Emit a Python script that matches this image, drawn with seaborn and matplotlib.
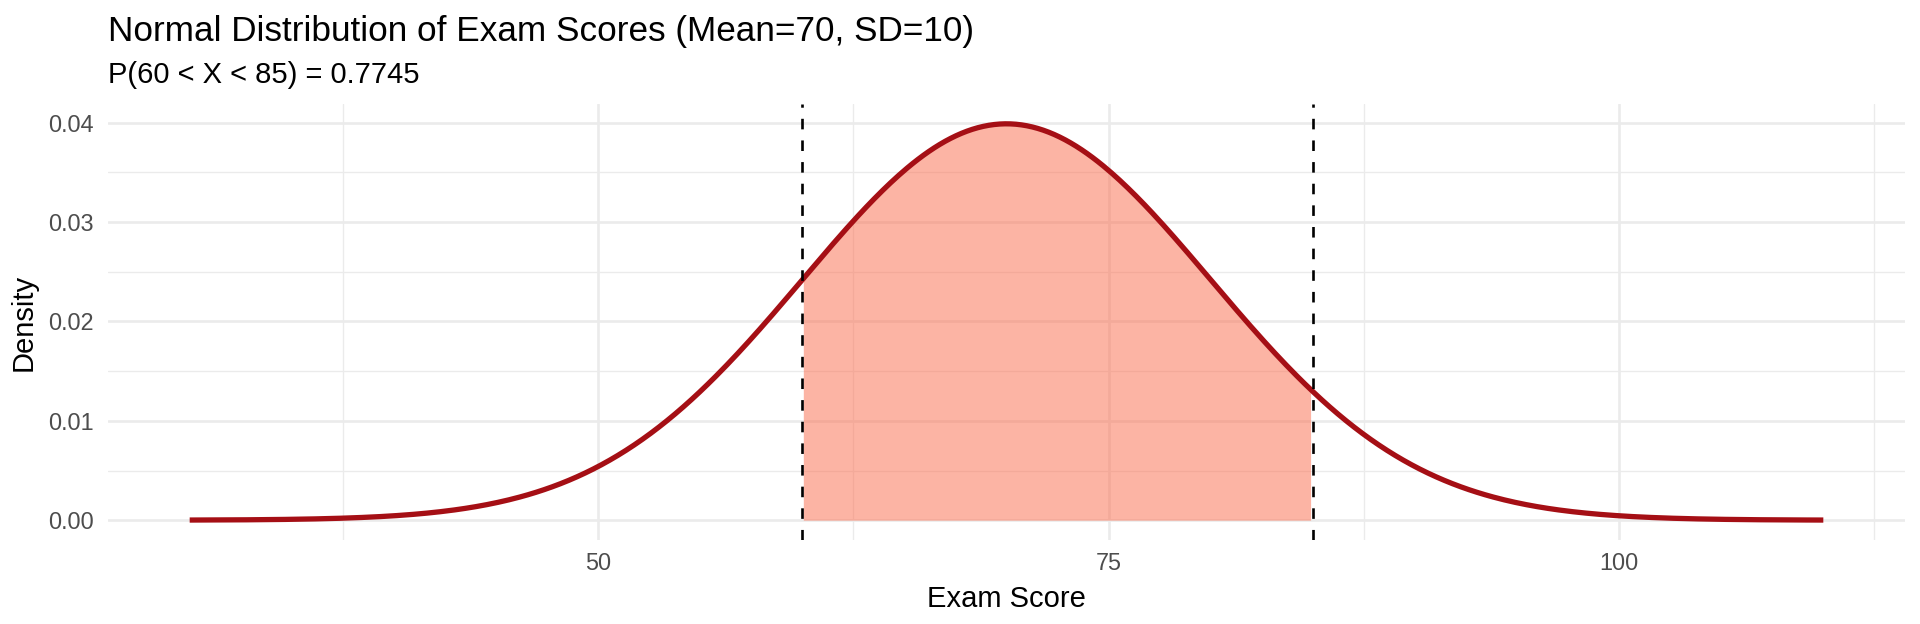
import numpy as np
import pandas as pd
import matplotlib
matplotlib.use("Agg")
import matplotlib.pyplot as plt
import seaborn as sns

# distribution shown in the chart
MEAN = 70
SD = 10
LOWER = 60
UPPER = 85
X_RANGE = [30, 110]
PROB_TEXT = "0.7745"

x_ticks = [50, 75, 100]
y_ticks = [0.00, 0.01, 0.02, 0.03, 0.04]

scores = np.linspace(X_RANGE[0], X_RANGE[1], 600)
density = np.exp(-0.5 * ((scores - MEAN) / SD) ** 2) / (SD * np.sqrt(2 * np.pi))
df = pd.DataFrame({"score": scores, "density": density})
shade = df[(df["score"] >= LOWER) & (df["score"] <= UPPER)]

sns.set_theme(style="whitegrid")
plt.rcParams["font.family"] = ["Liberation Sans", "DejaVu Sans"]

fig = plt.figure(figsize=(19.2, 6.24), dpi=100)
ax = fig.add_axes([108 / 1920, 1 - 540 / 624, (1905 - 108) / 1920, (540 - 104) / 624])

ax.fill_between(shade["score"], 0, shade["density"], color="#FB6A4A", alpha=0.5,
                linewidth=0, zorder=2)
sns.lineplot(data=df, x="score", y="density", color="#A50F15", linewidth=3.8, ax=ax,
             zorder=3, solid_capstyle="butt")
for v in (LOWER, UPPER):
    ax.axvline(v, color="black", linewidth=1.9, linestyle=(0, (4, 4.2)), zorder=4)

span = X_RANGE[1] - X_RANGE[0]
ax.set_xlim(X_RANGE[0] - 0.05 * span, X_RANGE[1] + 0.05 * span)
ymax = density.max()
ax.set_ylim(-0.05 * ymax, ymax * 1.05)

ax.set_xticks(x_ticks)
ax.set_xticks([37.5, 62.5, 87.5, 112.5], minor=True)
ax.set_yticks(y_ticks)
ax.set_yticks([0.005, 0.015, 0.025, 0.035], minor=True)
ax.set_yticklabels([f"{t:.2f}" for t in y_ticks])

ax.grid(which="major", color="#EBEBEB", linewidth=1.9)
ax.grid(which="minor", color="#EBEBEB", linewidth=0.95)
ax.set_axisbelow(True)
for s in ax.spines.values():
    s.set_visible(False)
ax.set_facecolor("white")

ax.tick_params(axis="both", which="both", length=0, labelsize=16.8, labelcolor="#4D4D4D")
ax.tick_params(axis="x", pad=9)
ax.tick_params(axis="y", pad=10)

ax.set_xlabel("Exam Score", fontsize=21, color="black", labelpad=7)
ax.set_ylabel("Density", fontsize=21, color="black", labelpad=8)

fig.text(108 / 1920, 1 - 41 / 624, f"Normal Distribution of Exam Scores (Mean={MEAN}, SD={SD})",
         fontsize=25.3, color="black", ha="left", va="baseline")
fig.text(108 / 1920, 1 - 83 / 624, f"P({LOWER} < X < {UPPER}) = {PROB_TEXT}",
         fontsize=21, color="black", ha="left", va="baseline")

fig.savefig("out.png", dpi=100, facecolor="white")
